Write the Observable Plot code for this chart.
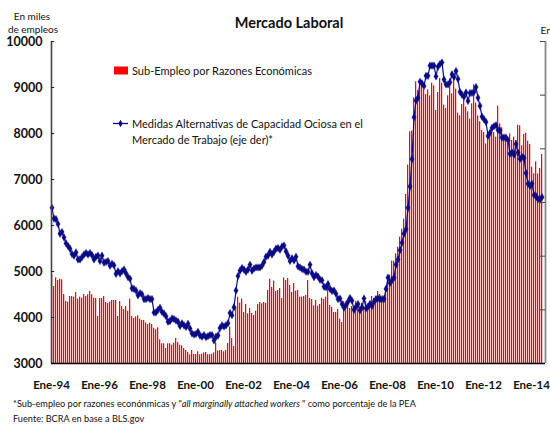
<!DOCTYPE html>
<html><head><meta charset="utf-8">
<script src="https://cdn.jsdelivr.net/npm/d3@7"></script>
<script src="https://cdn.jsdelivr.net/npm/@observablehq/plot@0.6"></script>
<style>
body{margin:0;background:#fff;overflow:hidden}
svg{font-family:Lato,"Open Sans",sans-serif}
</style>
</head><body><div id="chart"></div>
<script>
// Monthly series, Jan-1994 .. Jun-2014
const subempleo = [ // miles de empleos (eje izq)
4935,4674,4862,4804,4833,4819,4500,4348,4333,4457,
4457,4442,4543,4399,4442,4420,4500,4457,4493,4565,
4493,4420,4413,4022,4413,4413,4457,4326,4304,4333,
4370,4370,4370,4022,4348,4239,4174,4239,4138,4399,
4022,3978,4014,4036,3964,3935,3935,3884,3848,3877,
3848,3768,3732,3775,3514,3428,3428,3326,3428,3428,
3399,3442,3543,3457,3399,3384,3326,3283,3239,3188,
3283,3196,3196,3254,3188,3200,3230,3240,3190,3190,
3200,3230,3450,3270,3280,3283,3254,3283,3435,3790,
3543,3370,4225,4442,4312,4399,4109,4283,4080,4196,
4087,4043,4138,4283,4326,4297,4326,4304,4587,4833,
4652,4790,4565,4587,4630,4413,4862,4804,4848,4696,
4543,4739,4572,4587,4442,4442,4457,4478,4804,4413,
4391,4254,4370,4246,4283,4420,4391,4442,4652,4261,
4217,4109,4109,4174,3964,3891,4341,4261,4348,4196,
4239,4138,4348,4261,4196,4312,4225,4348,4261,4348,
4457,4413,4457,4565,4500,4341,4442,4514,4862,4920,
5225,5225,5384,5529,5746,5920,6138,6674,7312,8036,
8051,8775,9123,8935,9036,9094,8949,8848,8949,8819,
9094,9036,8500,8891,9196,9094,8616,8544,8819,9188,
8862,9239,8964,8442,8384,8630,8732,8572,8471,8312,
8645,9058,8659,8384,8254,8065,8022,7775,7978,7920,
8065,8022,7920,8594,8210,8123,7920,7877,7775,7993,
7848,7920,7848,8181,8167,7732,7978,8007,7833,7761,
7268,7123,7384,7123,7239,7543];

const medidas = [ // % de la PEA (eje der)
4.90,4.70,4.69,4.60,4.42,4.45,4.35,4.24,4.19,4.14,
4.04,4.01,4.07,3.94,3.94,3.98,4.03,4.06,4.03,4.06,
4.02,3.94,3.99,4.01,3.91,4.01,3.88,3.89,3.91,3.82,
3.86,3.83,3.67,3.72,3.68,3.72,3.75,3.68,3.61,3.58,
3.40,3.39,3.36,3.27,3.31,3.29,3.20,3.20,3.22,3.20,
3.20,2.95,2.95,3.00,3.04,2.96,2.93,2.88,2.78,2.79,
2.84,2.83,2.80,2.78,2.70,2.75,2.71,2.68,2.74,2.65,
2.56,2.54,2.55,2.59,2.52,2.50,2.53,2.49,2.51,2.53,
2.53,2.43,2.50,2.52,2.66,2.71,2.69,2.71,2.75,2.94,
2.90,3.05,3.36,3.63,3.73,3.78,3.75,3.71,3.75,3.84,
3.73,3.77,3.79,3.79,3.79,3.82,3.89,3.99,4.01,4.08,
4.03,4.08,4.14,4.15,4.12,4.18,4.20,4.09,4.01,3.91,
3.96,3.92,3.99,3.81,3.79,3.76,3.75,3.71,3.71,3.84,
3.68,3.61,3.65,3.62,3.56,3.55,3.43,3.42,3.48,3.39,
3.35,3.36,3.30,3.20,3.21,3.11,3.04,3.09,3.15,3.22,
3.17,3.00,3.06,3.11,2.99,3.05,3.21,3.03,3.06,3.11,
3.07,3.15,3.20,3.21,3.20,3.20,3.20,3.39,3.60,3.50,
3.55,3.60,3.84,3.94,4.11,4.25,4.42,4.50,4.90,5.30,
5.81,6.59,6.90,6.95,7.25,7.22,7.17,7.36,7.36,7.55,
7.55,7.55,7.35,7.53,7.58,7.61,7.29,7.20,7.20,7.24,
7.39,7.34,7.45,7.30,7.06,7.01,6.97,7.05,6.89,7.04,
7.04,7.06,7.15,6.95,6.80,6.60,6.55,6.50,6.24,6.30,
6.39,6.42,6.44,6.35,6.34,6.21,6.21,6.21,6.16,5.91,
5.93,5.89,6.09,5.93,5.81,5.85,5.83,5.55,5.35,5.31,
5.35,5.14,5.12,5.06,5.06,5.10];

const xTickLabels = ["Ene-94","Ene-96","Ene-98","Ene-00","Ene-02","Ene-04","Ene-06","Ene-08","Ene-10","Ene-12","Ene-14"];
const leftTicks = [3000,4000,5000,6000,7000,8000,9000,10000];
const rightTicks = [2,3,4,5,6,7,8];
const totalMonths = 247;

const leftDomain = [3000, 10000];
const rightDomain = [2, 8];
const toLeft = p => leftDomain[0] + (p - rightDomain[0]) * (leftDomain[1] - leftDomain[0]) / (rightDomain[1] - rightDomain[0]);

const bars = subempleo.map((v, i) => ({i, v}));
const line = medidas.map((p, i) => ({i, p, y: toLeft(p)}));
const xTicks = xTickLabels.map((label, k) => ({label, m: k * 24}));

const navy = "#0b0b85";
const chart = Plot.plot({
  width: 550, height: 424,
  marginTop: 41, marginBottom: 61, marginLeft: 51, marginRight: 5,
  style: {fontFamily: "Lato, sans-serif", background: "#fff", overflow: "visible"},
  x: {type: "linear", domain: [0, totalMonths], axis: null},
  y: {domain: leftDomain, axis: null},
  marks: [
    Plot.rectY(bars, {x1: "i", x2: d => d.i + 0.62, y1: leftDomain[0], y2: "v", fill: "#ff0000"}),
    Plot.line(line, {x: d => d.i + 0.25, y: "y", stroke: navy, strokeWidth: 1.2}),
    Plot.dot(line, {x: d => d.i + 0.25, y: "y", symbol: "diamond", r: 2.3, fill: navy, stroke: navy, strokeWidth: 0.3}),
    // left axis
    Plot.ruleX([0], {y1: leftDomain[0], y2: leftDomain[1], stroke: "#444", strokeWidth: 1.6}),
    Plot.ruleY(leftTicks, {x1: 0, x2: 1.6, stroke: "#222", strokeWidth: 1}),
    Plot.text(leftTicks, {x: 0, y: d => d, text: d => String(d), textAnchor: "end", dx: -9, fontWeight: "bold", fontSize: 12.5, fill: "#111"}),
    // right axis (labels fall outside the frame)
    Plot.ruleX([totalMonths], {y1: leftDomain[0], y2: leftDomain[1], stroke: "#888", strokeWidth: 1.8}),
    Plot.ruleY(rightTicks.map(toLeft), {x1: totalMonths - 2.5, x2: totalMonths, stroke: "#444", strokeWidth: 1}),
    // x axis
    Plot.ruleY([leftDomain[0]], {stroke: "#000", strokeWidth: 1.6}),
    Plot.ruleX(xTicks.slice(1), {x: "m", y1: leftDomain[0], y2: leftDomain[0] + 70, stroke: "#333", strokeWidth: 1}),
    Plot.text(xTicks, {x: "m", y: leftDomain[0], text: "label", dy: 22, fontWeight: "bold", fontSize: 11.5, fill: "#111"})
  ]
});
document.getElementById("chart").appendChild(chart);

const svg = d3.select(chart);
const g = svg.append("g").attr("fill", "#111").attr("text-anchor", "start");
g.append("text").attr("x", 289).attr("y", 28).attr("text-anchor", "middle")
  .attr("font-weight", "bold").attr("font-size", 14.5).text("Mercado Laboral");
g.append("text").attr("x", 32).attr("y", 20).attr("text-anchor", "middle").attr("font-size", 10).text("En miles");
g.append("text").attr("x", 33).attr("y", 33).attr("text-anchor", "middle").attr("font-size", 10).text("de empleos");
g.append("text").attr("x", 540.5).attr("y", 34).attr("font-size", 10).text("En");

// legend
g.append("rect").attr("x", 114).attr("y", 66.5).attr("width", 14).attr("height", 8).attr("fill", "#ff0000");
g.append("text").attr("x", 132).attr("y", 75).attr("font-size", 11).text("Sub-Empleo por Razones Económicas");
g.append("line").attr("x1", 113).attr("x2", 128).attr("y1", 123.5).attr("y2", 123.5).attr("stroke", navy).attr("stroke-width", 1.3);
g.append("path").attr("d", d3.symbol(d3.symbolDiamond, 16)()).attr("transform", "translate(120.5,123.5)").attr("fill", navy);
g.append("text").attr("x", 132).attr("y", 127.5).attr("font-size", 11).text("Medidas Alternativas de Capacidad Ociosa en el");
g.append("text").attr("x", 132).attr("y", 144).attr("font-size", 11).text("Mercado de Trabajo (eje der)*");

// footnotes
const fn = g.append("text").attr("x", 13).attr("y", 407).attr("font-size", 9.2);
fn.append("tspan").text("*Sub-empleo por razones econónmicas y \"");
fn.append("tspan").attr("font-style", "italic").text("all marginally attached workers ");
fn.append("tspan").text("\" como porcentaje de la PEA");
g.append("text").attr("x", 13).attr("y", 422).attr("font-size", 9.2).text("Fuente: BCRA en base a BLS.gov");
</script>
</body></html>
